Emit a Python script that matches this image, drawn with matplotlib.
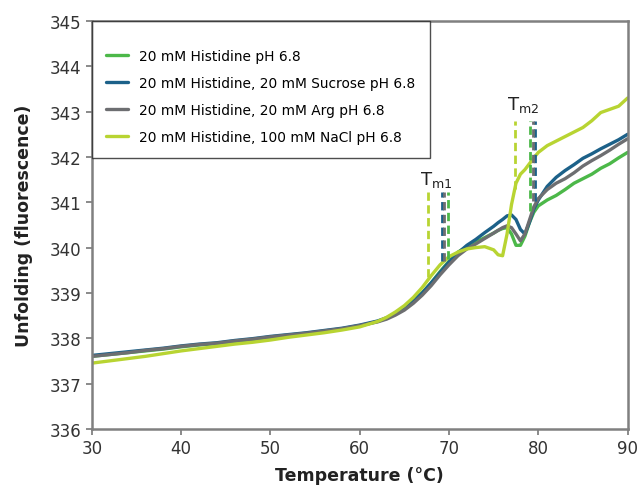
import matplotlib
matplotlib.use("Agg")
import matplotlib.pyplot as plt

plt.rcParams['font.family'] = ['DejaVu Sans']

# temperature (C)
temps = [30, 32, 34, 36, 38, 40, 42, 44, 46, 48, 50, 52, 54, 56, 58, 60, 62,
         63, 64, 65, 66, 67, 68, 69, 70, 71, 72, 73, 74, 75,
         75.5, 76, 76.5, 77, 77.5, 78, 78.5, 79, 79.5, 80,
         81, 82, 83, 84, 85, 86, 87, 88, 89, 90]

his = [337.60, 337.64, 337.68, 337.72, 337.76, 337.81, 337.85, 337.88, 337.93, 337.97,
       338.02, 338.06, 338.10, 338.15, 338.20, 338.27, 338.37,
       338.44, 338.54, 338.66, 338.82, 339.00, 339.22, 339.47, 339.70, 339.90, 340.02, 340.12, 340.22, 340.32,
       340.38, 340.42, 340.44, 340.30, 340.05, 340.05, 340.25, 340.55, 340.78, 340.92,
       341.05, 341.15, 341.28, 341.42, 341.52, 341.62, 341.75, 341.85, 341.98, 342.10]

sucrose = [337.62, 337.66, 337.70, 337.74, 337.78, 337.83, 337.87, 337.90, 337.95, 337.99,
           338.04, 338.08, 338.12, 338.17, 338.22, 338.29, 338.38,
           338.45, 338.55, 338.67, 338.82, 339.00, 339.22, 339.45, 339.68, 339.88, 340.05, 340.18, 340.33, 340.47,
           340.55, 340.62, 340.70, 340.72, 340.62, 340.40, 340.30, 340.55, 340.85, 341.05,
           341.35, 341.55, 341.70, 341.83, 341.97, 342.07, 342.18, 342.28, 342.38, 342.50]

arg = [337.60, 337.64, 337.68, 337.73, 337.77, 337.82, 337.86, 337.89, 337.94, 337.98,
       338.03, 338.07, 338.11, 338.16, 338.21, 338.28, 338.36,
       338.42, 338.51, 338.62, 338.77, 338.95, 339.16, 339.40, 339.62, 339.82, 339.97, 340.08, 340.20, 340.32,
       340.38, 340.44, 340.48, 340.44, 340.30, 340.15, 340.30, 340.60, 340.90, 341.08,
       341.28, 341.42, 341.52, 341.65, 341.80, 341.92, 342.03, 342.15, 342.28, 342.40]

nacl = [337.45, 337.50, 337.55, 337.60, 337.66, 337.72, 337.77, 337.82, 337.87, 337.91,
        337.96, 338.02, 338.07, 338.12, 338.18, 338.25, 338.37,
        338.46, 338.58, 338.72, 338.90, 339.12, 339.38, 339.62, 339.80, 339.90, 339.97, 340.00, 340.02, 339.95,
        339.84, 339.82, 340.30, 340.95, 341.42, 341.62, 341.72, 341.85, 341.98, 342.10,
        342.25, 342.35, 342.45, 342.55, 342.65, 342.80, 342.98, 343.05, 343.12, 343.30]

labels = ["20 mM Histidine pH 6.8",
          "20 mM Histidine, 20 mM Sucrose pH 6.8",
          "20 mM Histidine, 20 mM Arg pH 6.8",
          "20 mM Histidine, 100 mM NaCl pH 6.8"]
colors = ["#4cb849", "#1c6189", "#6d6e71", "#b8d432"]

# Tm markers for his, sucrose, arg, nacl
tm1 = [69.9, 69.25, 69.45, 67.7]
tm1_low = [339.75, 339.7, 339.7, 339.35]
tm1_high = 341.23
tm2 = [79.1, 79.65, 79.45, 77.4]
tm2_low = [340.8, 341.03, 341.03, 341.3]
tm2_high = 342.8

fig = plt.figure(figsize=(6.43, 4.89), dpi=100)
ax = fig.add_axes([0.143, 0.121, 0.833, 0.834])

series = [his, sucrose, arg, nacl]
for ys, lab, c in zip(series, labels, colors):
    ax.plot(temps, ys, color=c, lw=2.4, label=lab, solid_capstyle='round')

for i in [3, 0, 1, 2]:
    ax.vlines(tm1[i], tm1_low[i], tm1_high, colors=colors[i], linestyles=(0, (3, 1.6)), lw=2)
    ax.vlines(tm2[i], tm2_low[i], tm2_high, colors=colors[i], linestyles=(0, (3, 1.6)), lw=2)

ax.text(68.6, 341.4, r"T$_\mathregular{m1}$", fontsize=13, ha='center', color='#222222')
ax.text(78.3, 343.05, r"T$_\mathregular{m2}$", fontsize=13, ha='center', color='#222222')

ax.set_xlim(30, 90)
ax.set_ylim(336, 345)
ax.set_xticks([30, 40, 50, 60, 70, 80, 90])
ax.set_yticks(range(336, 346))
ax.tick_params(direction='out', length=4, width=1.2, color='#777777',
               labelsize=12, labelcolor='#333333')
for s in ax.spines.values():
    s.set_color('#808080')
    s.set_linewidth(1.8)

ax.set_xlabel("Temperature (°C)", fontsize=12.5, fontweight='bold', color='#222222', labelpad=6)
ax.set_ylabel("Unfolding (fluorescence)", fontsize=12.5, fontweight='bold', color='#222222')
ax.yaxis.set_label_coords(-0.11, 0.5)

leg = ax.legend(loc='upper left', bbox_to_anchor=(0, 1), borderaxespad=0, fontsize=9.9,
                fancybox=False, edgecolor='#222222', handlelength=1.6, handletextpad=0.8,
                labelspacing=0.93, borderpad=1.05, title=" ", title_fontsize=1)
leg.get_frame().set_linewidth(1.0)

fig.savefig("out.png", dpi=100)
